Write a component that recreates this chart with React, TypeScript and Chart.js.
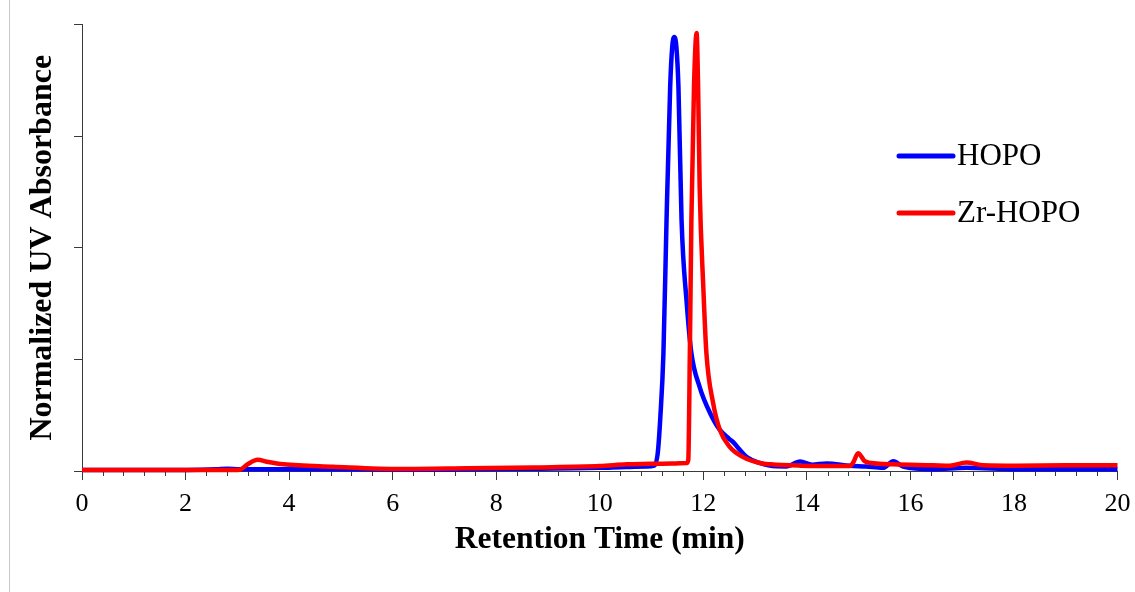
import React, { useEffect, useRef } from "react";
import { Chart, registerables } from "chart.js";

Chart.register(...registerables);

// ---- Data ----
const hopoTime = [
  0, 1.5, 2.6, 2.8, 3.05, 3.5, 4.5, 5.5, 6.5, 7.5, 8.5, 9.5, 10.0, 10.5, 10.9, 11.05, 11.12, 11.17,
  11.23, 11.29, 11.36, 11.4, 11.44, 11.48, 11.52, 11.58, 11.68, 11.77, 11.93, 12.13, 12.32, 12.5,
  12.6, 12.7, 12.84, 13.09, 13.28, 13.6, 13.87, 14.1, 14.38, 14.83, 15.15, 15.47, 15.67, 15.86,
  16.44, 17.08, 18.05, 19.0, 20.0,
];
const hopoValue = [
  0.002, 0.002, 0.004, 0.005, 0.004, 0.004, 0.004, 0.004, 0.003, 0.004, 0.005, 0.006, 0.007, 0.009,
  0.01, 0.012, 0.04, 0.12, 0.264, 0.562, 0.86, 0.95, 0.972, 0.95, 0.86, 0.562, 0.376, 0.264, 0.188,
  0.13, 0.092, 0.072, 0.062, 0.048, 0.031, 0.018, 0.012, 0.01, 0.021, 0.014, 0.017, 0.012, 0.01,
  0.007, 0.022, 0.01, 0.004, 0.007, 0.004, 0.004, 0.004,
];

const zrTime = [
  0, 1.5, 2.9, 3.05, 3.2, 3.39, 3.6, 3.89, 4.85, 6.14, 7.43, 8.72, 10.0, 10.52, 10.97, 11.4, 11.68,
  11.71, 11.74, 11.77, 11.82, 11.87, 11.9, 11.93, 12.0, 12.06, 12.19, 12.32, 12.51, 12.77, 13.09,
  13.3, 13.87, 14.83, 14.9, 14.99, 15.12, 15.35, 15.67, 16.44, 16.76, 17.08, 17.41, 18.05, 19.0, 20.0,
];
const zrValue = [
  0.002, 0.002, 0.002, 0.003, 0.015, 0.025, 0.02, 0.015, 0.0096, 0.0045, 0.006, 0.008, 0.011, 0.015,
  0.016, 0.017, 0.018, 0.025, 0.264, 0.562, 0.859, 0.981, 0.859, 0.635, 0.412, 0.264, 0.152, 0.092,
  0.054, 0.031, 0.018, 0.015, 0.012, 0.011, 0.02, 0.04, 0.022, 0.017, 0.015, 0.013, 0.012, 0.019,
  0.013, 0.012, 0.013, 0.013,
];

const seriesLabels = ["HOPO", "Zr-HOPO"];
const seriesColors = ["#0000FF", "#FF0000"];

const xMin = 0;
const xMax = 20;
const xMajorStep = 2;
const xMinorStep = 0.4;
const yMin = 0;
const yMax = 1;
const yStep = 0.25;

const xTitle = "Retention Time (min)";
const yTitle = "Normalized UV Absorbance";

const AXIS_COLOR = "#3a3a3a";
const FONT = "'Liberation Serif', 'Times New Roman', serif";

const toPoints = (t: number[], v: number[]) => t.map((x, i) => ({ x, y: v[i] }));

const minorTicksPlugin = {
  id: "minorTicks",
  beforeDatasetsDraw(chart: any) {
    const xs = chart.scales.x;
    const ctx = chart.ctx;
    const y0 = chart.chartArea.bottom;
    ctx.save();
    ctx.strokeStyle = AXIS_COLOR;
    ctx.lineWidth = 1;
    const n = Math.round((xMax - xMin) / xMinorStep);
    for (let i = 0; i <= n; i++) {
      const v = xMin + i * xMinorStep;
      if (Math.abs(v / xMajorStep - Math.round(v / xMajorStep)) < 1e-6) continue;
      const px = Math.round(xs.getPixelForValue(v)) + 0.5;
      ctx.beginPath();
      ctx.moveTo(px, y0);
      ctx.lineTo(px, y0 + 5);
      ctx.stroke();
    }
    ctx.restore();
  },
};

const legendPlugin = {
  id: "customLegend",
  afterDraw(chart: any) {
    const ctx = chart.ctx;
    ctx.save();
    const x1 = 899;
    const x2 = 953;
    const ys = [156, 213];
    chart.data.datasets.forEach((ds: any, i: number) => {
      ctx.strokeStyle = ds.borderColor;
      ctx.lineWidth = 5;
      ctx.lineCap = "round";
      ctx.beginPath();
      ctx.moveTo(x1, ys[i]);
      ctx.lineTo(x2, ys[i]);
      ctx.stroke();
      ctx.fillStyle = "#000";
      ctx.font = `31px ${FONT}`;
      ctx.textBaseline = "middle";
      ctx.textAlign = "left";
      ctx.fillText(ds.label, 957, ys[i] + 1);
    });
    ctx.restore();
  },
};

export default function App() {
  const canvasRef = useRef<HTMLCanvasElement | null>(null);

  useEffect(() => {
    if (!canvasRef.current) return;
    const chart = new Chart(canvasRef.current, {
      type: "line",
      data: {
        datasets: [
          {
            label: seriesLabels[0],
            data: toPoints(hopoTime, hopoValue),
            borderColor: seriesColors[0],
            backgroundColor: seriesColors[0],
            borderWidth: 4.5,
            pointRadius: 0,
            cubicInterpolationMode: "monotone",
            order: 1,
          },
          {
            label: seriesLabels[1],
            data: toPoints(zrTime, zrValue),
            borderColor: seriesColors[1],
            backgroundColor: seriesColors[1],
            borderWidth: 4.5,
            pointRadius: 0,
            cubicInterpolationMode: "monotone",
            order: 0,
          },
        ],
      },
      options: {
        animation: false,
        responsive: false,
        clip: false as any,
        layout: { padding: { left: 23.5, right: 17.5, top: 24.5, bottom: 33.5 } },
        plugins: {
          legend: { display: false },
          tooltip: { enabled: false },
        },
        scales: {
          x: {
            type: "linear",
            min: xMin,
            max: xMax,
            afterFit: (s: any) => {
              s.height = 87.5;
            },
            ticks: {
              stepSize: xMajorStep,
              color: "#000",
              font: { family: FONT, size: 26, lineHeight: 1.62 },
              padding: 3,
              maxRotation: 0,
            },
            grid: {
              drawOnChartArea: false,
              drawTicks: true,
              tickLength: 9,
              tickColor: AXIS_COLOR,
            },
            border: { display: true, color: AXIS_COLOR, width: 1 },
            title: {
              display: true,
              text: xTitle,
              color: "#000",
              font: { family: FONT, size: 31.5, weight: "bold" },
              padding: 0,
            },
          },
          y: {
            type: "linear",
            min: yMin,
            max: yMax,
            afterFit: (s: any) => {
              s.width = 58.5;
            },
            ticks: { stepSize: yStep, display: false },
            grid: {
              drawOnChartArea: false,
              drawTicks: true,
              tickLength: 8,
              tickColor: AXIS_COLOR,
            },
            border: { display: true, color: AXIS_COLOR, width: 1 },
            title: {
              display: true,
              text: yTitle,
              color: "#000",
              font: { family: FONT, size: 32, weight: "bold" },
              padding: 0,
            },
          },
        },
      },
      plugins: [minorTicksPlugin, legendPlugin],
    });
    return () => chart.destroy();
  }, []);

  return (
    <div style={{ position: "absolute", left: 0, top: 0, width: 1135, height: 592, background: "#fff" }}>
      <div style={{ position: "absolute", left: 9, top: 0, width: 1, height: 592, background: "#c8c8c8" }} />
      <canvas ref={canvasRef} width={1135} height={592} style={{ position: "absolute", left: 0, top: 0 }} />
    </div>
  );
}
